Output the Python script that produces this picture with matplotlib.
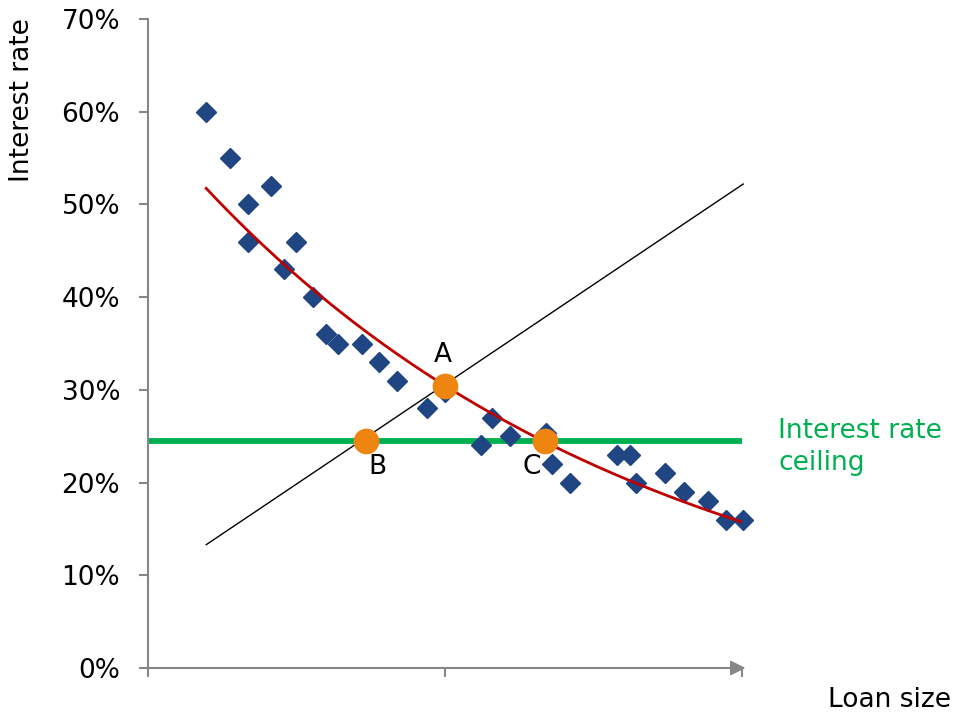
import numpy as np
import matplotlib
matplotlib.use("Agg")
import matplotlib.pyplot as plt

# Scatter observations (loan size in arbitrary units, interest rate)
loan_x = [9.8, 13.8, 16.8, 16.8, 20.7, 22.9, 24.9, 27.8, 30.0, 32.0, 36.0, 38.9,
          41.9, 47.0, 50.0, 56.1, 57.9, 60.9, 67.0, 68.0, 71.0, 79.0, 81.1, 82.2,
          87.0, 90.2, 94.3, 97.3, 100.2]
rate_y = [0.60, 0.55, 0.50, 0.46, 0.52, 0.43, 0.46, 0.40, 0.36, 0.35, 0.35, 0.33,
          0.31, 0.28, 0.298, 0.24, 0.27, 0.25, 0.253, 0.22, 0.20, 0.23, 0.23, 0.20,
          0.21, 0.19, 0.18, 0.16, 0.16]

# Supply-type straight line endpoints
line_x = [9.8, 100.2]
line_y = [0.133, 0.522]

# Interest rate ceiling
ceiling = 0.245

# Labelled points
pt_names = ["A", "B", "C"]
pt_x = [50.0, 36.7, 66.8]
pt_y = [0.304, 0.245, 0.245]

yticks = [0, 0.1, 0.2, 0.3, 0.4, 0.5, 0.6, 0.7]
ytick_labels = ["0%", "10%", "20%", "30%", "40%", "50%", "60%", "70%"]

grey = "#878787"
fs = 19

fig = plt.figure(figsize=(9.57, 7.14), dpi=100)
ax = fig.add_axes([148/957, 46/714, 594/957, 649/714])
ax.set_xlim(0, 100)
ax.set_ylim(0, 0.70)

for s in ["top", "right", "bottom"]:
    ax.spines[s].set_visible(False)
ax.spines["left"].set_color(grey)
ax.spines["left"].set_linewidth(1.5)

ax.set_yticks(yticks)
ax.set_yticklabels(ytick_labels, fontsize=fs)
ax.set_xticks([0, 50, 100])
ax.set_xticklabels([])
ax.tick_params(axis="both", direction="out", length=6.5, width=1.5, color=grey)
ax.tick_params(axis="y", pad=13.5)

# x axis with arrow
ax.annotate("", xy=(100.6, 0), xytext=(0, 0), xycoords="data",
            arrowprops=dict(arrowstyle="-|>", color=grey, lw=1.5,
                            mutation_scale=22, shrinkA=0, shrinkB=0),
            annotation_clip=False)

# scatter
ax.plot(loan_x, rate_y, linestyle="none", marker="D", ms=9.7,
        color="#1F4582", zorder=3, clip_on=False)

# exponential trend line fitted to scatter
coef = np.polyfit(loan_x, np.log(rate_y), 1)
tx = np.linspace(min(loan_x), 100, 200)
ax.plot(tx, np.exp(np.polyval(coef, tx)), color="#C00000", lw=2.0, zorder=4)

# straight line
ax.plot(line_x, line_y, color="black", lw=1.0, zorder=4, clip_on=False)

# ceiling
ax.axhline(ceiling, color="#00B050", lw=4.2, zorder=2)

# points
ax.plot(pt_x, pt_y, linestyle="none", marker="o", ms=17.5,
        color="#EE8510", zorder=5)
for name, lx, ly in zip(pt_names, [49.7, 38.6, 64.6], [0.338, 0.217, 0.217]):
    ax.text(lx, ly, name, fontsize=fs, ha="center", va="center")

fig.text(778/957, 1 - 447/714, "Interest rate\nceiling", color="#00B050",
         fontsize=fs, ha="left", va="center", linespacing=1.25)
fig.text(22/957, 1 - 100/714, "Interest rate", rotation=90, fontsize=fs,
         ha="center", va="center")
fig.text(951/957, 0.002, "Loan size", fontsize=fs, ha="right",
         va="bottom")

fig.savefig("out.png", dpi=100)
